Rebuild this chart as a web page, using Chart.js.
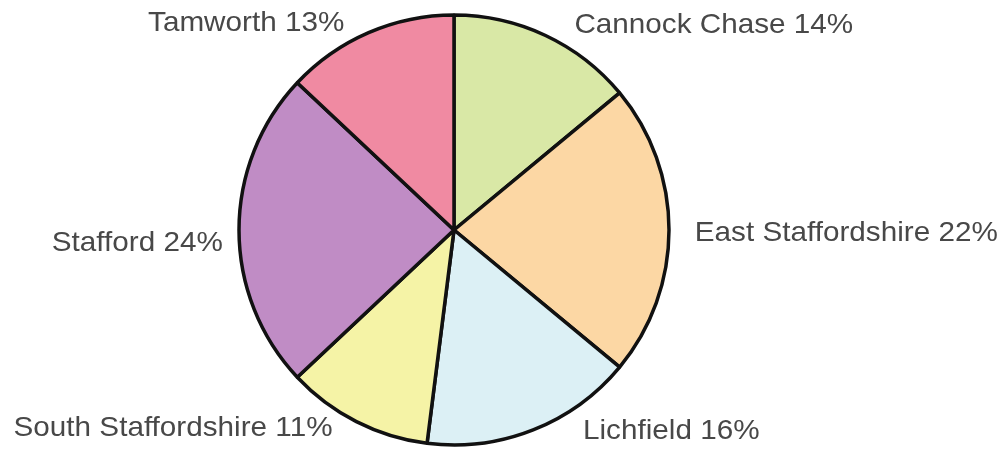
<!DOCTYPE html>
<html>
<head>
<meta charset="utf-8">
<script src="https://cdn.jsdelivr.net/npm/chart.js@4"></script>
<style>
  html, body { margin: 0; padding: 0; background: #fff; }
  #wrap { width: 1007px; height: 450px; }
</style>
</head>
<body>
<div id="wrap"><canvas id="pie"></canvas></div>
<script>
// district shares (%), clockwise from 12 o'clock
const districts = ['Cannock Chase', 'East Staffordshire', 'Lichfield', 'South Staffordshire', 'Stafford', 'Tamworth'];
const shares = [14, 22, 16, 11, 24, 13];
const sliceColours = ['#d9e8a6', '#fcd7a4', '#dcf0f5', '#f5f3a6', '#c08cc5', '#f08aa2'];

// where each label sits, relative to pie centre, in units of the radius
// [dx, dy, align]
const labelSpots = [
  [0.56, -0.953, 'left'],
  [1.12, 0.014, 'left'],
  [0.60, 0.935, 'left'],
  [-0.565, 0.92, 'right'],
  [-1.075, 0.06, 'right'],
  [-0.51, -0.962, 'right']
];

const outsideLabels = {
  id: 'outsideLabels',
  afterDatasetsDraw(chart) {
    const ctx = chart.ctx;
    const arcs = chart.getDatasetMeta(0).data;
    ctx.font = '28px "Liberation Sans", Arial, sans-serif';
    ctx.fillStyle = '#484848';
    ctx.textBaseline = 'middle';
    arcs.forEach((arc, i) => {
      const r = arc.outerRadius;
      const spot = labelSpots[i];
      ctx.save();
      ctx.translate(arc.x + spot[0] * r, arc.y + spot[1] * r);
      ctx.scale(1.06, 1); // source text is a touch wider than Liberation Sans
      ctx.textAlign = spot[2];
      ctx.fillText(districts[i] + ' ' + shares[i] + '%', 0, 0);
      ctx.restore();
    });
  }
};

new Chart(document.getElementById('pie'), {
  type: 'pie',
  data: {
    labels: districts,
    datasets: [{
      data: shares,
      backgroundColor: sliceColours,
      borderColor: '#111',
      borderWidth: 3.5,
      radius: 215
    }]
  },
  options: {
    responsive: true,
    maintainAspectRatio: false,
    animation: false,
    layout: { padding: { left: 0, right: 99, top: 10, bottom: 0 } },
    plugins: { legend: { display: false }, tooltip: { enabled: false } }
  },
  plugins: [outsideLabels]
});
</script>
</body>
</html>
